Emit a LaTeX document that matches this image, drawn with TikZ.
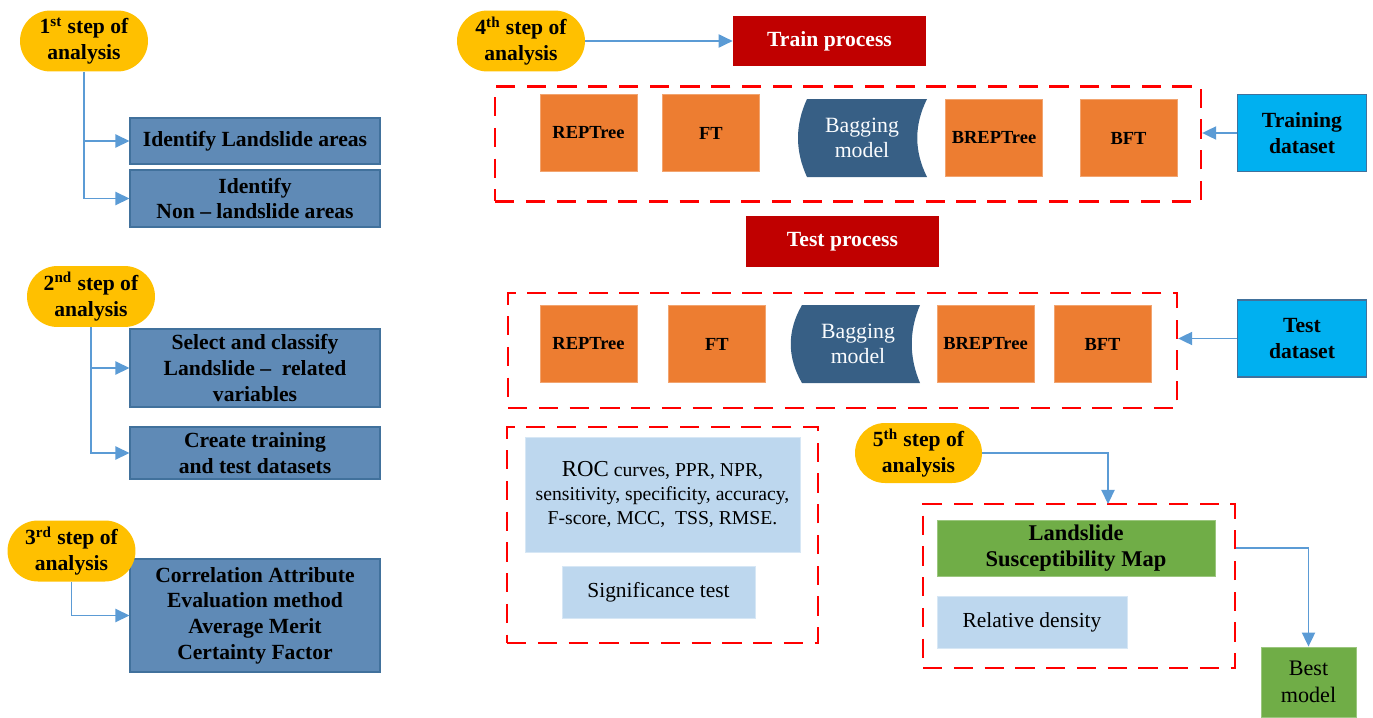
\documentclass[tikz,border=0pt]{standalone}
\usepackage{fontspec}
\setmainfont{Liberation Serif}
\usetikzlibrary{arrows.meta, positioning, shapes.misc}
\definecolor{cyellow}{HTML}{FFC000}
\definecolor{csteel}{HTML}{5F8AB6}
\definecolor{csteeld}{HTML}{41719C}
\definecolor{corange}{HTML}{ED7D31}
\definecolor{cdred}{HTML}{C00000}
\definecolor{ccyan}{HTML}{00B0F0}
\definecolor{cpale}{HTML}{BDD7EE}
\definecolor{cgreen}{HTML}{70AD47}
\definecolor{cbag}{HTML}{375F85}
\definecolor{carrow}{HTML}{5B9BD5}
\tikzset{
  every picture/.style={x=0.02cm, y=-0.02cm},
  txt/.style={font=\fontsize{12.3}{14.6}\selectfont\bfseries, align=center, inner sep=0pt},
  stepnode/.style={txt, rounded rectangle, fill=cyellow, minimum width=2.56cm, minimum height=1.22cm},
  bluebox/.style={txt, draw=csteeld, fill=csteel, line width=0.6pt, minimum width=5cm},
  model/.style={font=\fontsize{10.5}{12}\selectfont\bfseries, fill=corange, draw=corange!70!white, line width=0.5pt, minimum width=1.94cm, minimum height=1.54cm, inner sep=0pt},
  bagtext/.style={font=\fontsize{12.4}{14.2}\selectfont, text=white!92!cpale, align=center, inner sep=0pt},
  process/.style={txt, fill=cdred, text=white, minimum width=3.86cm, minimum height=1cm},
  dataset/.style={txt, fill=ccyan, draw=csteeld, line width=0.6pt, minimum width=2.58cm, minimum height=1.55cm},
  palebox/.style={font=\fontsize{12.2}{13.6}\selectfont, align=center, inner sep=0pt, fill=cpale, draw=cpale!60!white, line width=0.5pt},
  greenbox/.style={align=center, inner sep=0pt, fill=cgreen, draw=cgreen!70!white, line width=0.5pt},
  dashbox/.style={draw=red, line width=1.4pt, dash pattern=on 11pt off 6.5pt, inner sep=0pt},
  link/.style={draw=carrow, line width=0.9pt, -{Triangle[length=8pt, width=7.5pt]}},
}
\begin{document}
\begin{tikzpicture}
  \useasboundingbox (0,0) rectangle (1373,717);
  % left column: steps 1 to 3
  \node[stepnode] (s1) at (84,41) {1\textsuperscript{st} step of\\analysis};
  \node[bluebox, minimum height=0.92cm] (b1) at (255,141) {Identify Landslide areas};
  \node[bluebox, minimum height=1.14cm] (b2) at (255,198.5) {Identify\\Non -- landslide areas};
  \draw[link] (s1.south) |- (b1.west);
  \draw[link] (s1.south) |- (b2.west);

  \node[stepnode] (s2) at (91,296.5) {2\textsuperscript{nd} step of\\analysis};
  \node[bluebox, minimum height=1.56cm] (b3) at (255,368) {Select and classify\\Landslide --~ related\\variables};
  \node[bluebox, minimum height=1.04cm] (b4) at (255,453) {Create training\\and test datasets};
  \draw[link] (s2.south) |- (b3.west);
  \draw[link] (s2.south) |- (b4.west);

  \node[bluebox, minimum height=2.26cm] (b5) at (255,615.5) {Correlation Attribute\\Evaluation method\\Average Merit\\Certainty Factor};
  \node[stepnode] (s3) at (71.5,551) {3\textsuperscript{rd} step of\\analysis};
  \draw[link] (s3.south) |- (b5.west);

  % step 4: train and test
  \node[stepnode] (s4) at (521,41) {4\textsuperscript{th} step of\\analysis};
  \node[process] (train) at (829.5,41) {Train process};
  \draw[link] (s4.east) -- (train.west);

  \node[dashbox, minimum width=14.12cm, minimum height=2.3cm] (dash1) at (848,144) {};
  \foreach \n/\x/\y/\t in {a/588.5/133/REPTree, b/711/133/FT, c/994/138/BREPTree, d/1128.5/138/BFT}
    \node[model] (tr\n) at (\x,\y) {\t};
  \fill[cbag] (807,99) -- (927,99) .. controls (914,125) and (914,151) .. (927,177)
    -- (807,177) .. controls (795,151) and (795,125) .. (807,99) -- cycle;
  \node[bagtext] (bag1) at (862,138) {Bagging\\model};
  \node[dataset] (trd) at (1302,133) {Training\\dataset};
  \draw[link] (trd.west) -- (trd.west -| dash1.east);

  \node[process, minimum height=1.02cm] (test) at (842.5,241.5) {Test process};
  \node[dashbox, minimum width=13.38cm, minimum height=2.3cm] (dash2) at (842.5,350.5) {};
  \foreach \n/\x/\t in {a/588.5/REPTree, b/717/FT, c/985.5/BREPTree, d/1102.5/BFT}
    \node[model] (te\n) at (\x,344) {\t};
  \fill[cbag] (802,305) -- (920,305) .. controls (909,331) and (909,357) .. (920,383)
    -- (802,383) .. controls (787,357) and (787,331) .. (802,305) -- cycle;
  \node[bagtext] (bag2) at (858,344) {Bagging\\model};
  \node[dataset, minimum height=1.54cm] (tsd) at (1302,338.5) {Test\\dataset};
  \draw[link] (tsd.west) -- (tsd.west -| dash2.east);

  % evaluation
  \node[dashbox, minimum width=6.22cm, minimum height=4.32cm] (dash3) at (662.5,535) {};
  \node[palebox, font=\fontsize{11.2}{13.6}\selectfont, minimum width=5.5cm, minimum height=2.3cm] (roc) at (662.5,494.5)
    {{\fontsize{13}{13.6}\selectfont ROC} curves, PPR, NPR,\\sensitivity, specificity, accuracy,\\F-score, MCC,~ TSS, RMSE.};
  \node[palebox, minimum width=3.86cm, minimum height=1.04cm] (sig) at (658.5,592) {Significance test};

  % step 5
  \node[stepnode, minimum width=2.54cm, minimum height=1.2cm] (s5) at (918.5,453) {5\textsuperscript{th} step of\\analysis};
  \node[dashbox, minimum width=6.24cm, minimum height=3.28cm] (dash4) at (1079,586) {};
  \coordinate (d4in) at (1108,504);
  \draw[link] (s5.east) -| (d4in);
  \node[greenbox, txt, font=\fontsize{12.8}{15}\selectfont\bfseries, minimum width=5.56cm, minimum height=1.12cm] (map) at (1076,548) {Landslide\\Susceptibility Map};
  \node[palebox, minimum width=3.8cm, minimum height=1.04cm] (rel) at (1032,622) {Relative density};
  \node[greenbox, font=\fontsize{12.6}{15}\selectfont, minimum width=1.9cm, minimum height=1.4cm] (best) at (1308.5,682) {Best\\model};
  \draw[link] (map.east -| dash4.east) -| (best.north);
\end{tikzpicture}
\end{document}
